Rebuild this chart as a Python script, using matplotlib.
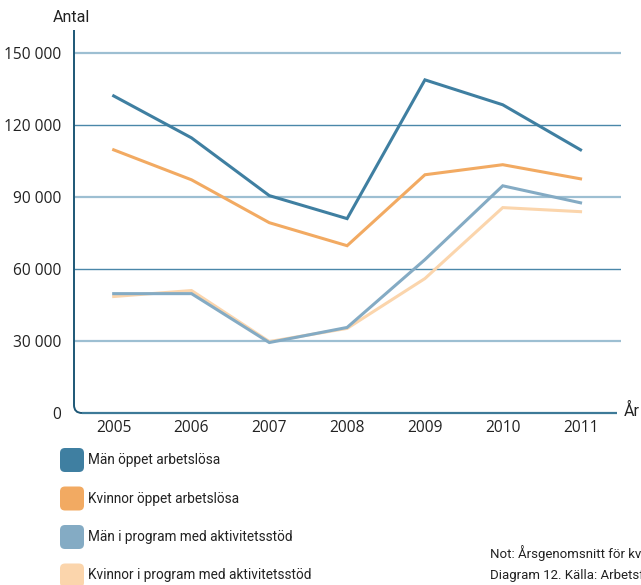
import matplotlib
matplotlib.use("Agg")
import matplotlib.pyplot as plt
from matplotlib.patches import FancyBboxPatch, PathPatch
from matplotlib.path import Path
from matplotlib.ticker import FuncFormatter

plt.rcParams['font.family'] = ['Open Sans', 'DejaVu Sans']
LABEL_FONT = ['Roboto', 'DejaVu Sans']

years = [2005, 2006, 2007, 2008, 2009, 2010, 2011]
man_oppet = [132300, 114800, 90700, 81100, 139000, 128600, 109800]
kvinnor_oppet = [109800, 97300, 79400, 69800, 99400, 103600, 97700]
man_program = [49800, 49800, 29400, 35700, 64000, 94800, 87700]
kvinnor_program = [48600, 51100, 29800, 35300, 56100, 85700, 84000]

series = [
    ("Män öppet arbetslösa", man_oppet, "#3f7fa1"),
    ("Kvinnor öppet arbetslösa", kvinnor_oppet, "#f2aa62"),
    ("Män i program med aktivitetsstöd", man_program, "#84abc4"),
    ("Kvinnor i program med aktivitetsstöd", kvinnor_program, "#fbd5ac"),
]
yticks = [0, 30000, 60000, 90000, 120000, 150000]

fig = plt.figure(figsize=(6.41, 5.85), dpi=100)
ax = fig.add_axes([74 / 641, 1 - 413 / 585, 547 / 641, 383 / 585])

# grid lines, alternating light / dark like the original
for v in yticks[1:]:
    if v in (60000, 120000):
        ax.axhline(v, color="#4a87a9", lw=1.0, zorder=1)
    else:
        ax.axhline(v, color="#9dbfd2", lw=1.6, zorder=1)

# draw lighter series first so the darker ones sit on top
for label, vals, col in reversed(series):
    ax.plot(years, vals, color=col, lw=2.2, solid_joinstyle="miter", zorder=3)

ax.set_xlim(2004.49, 2011.52)
ax.set_ylim(0, 159800)
ax.set_xticks(years)
ax.set_yticks(yticks)
ax.yaxis.set_major_formatter(FuncFormatter(lambda v, p: f"{int(v):,}".replace(",", " ")))
ax.tick_params(length=0, labelsize=11.2, colors="#222222", pad=9)
ax.tick_params(axis="x", pad=5)
for s in ax.spines.values():
    s.set_visible(False)

# axis frame with rounded lower-left corner (pixel coords)
r = 8
left = Path([(74, 585 - 30), (74, 585 - 413 + r), (74, 585 - 413), (74 + r, 585 - 413)],
            [Path.MOVETO, Path.LINETO, Path.CURVE3, Path.CURVE3])
fig.add_artist(PathPatch(left, fc="none", ec="#1d5776", lw=1.4, transform=None))
bottom = Path([(74 + r, 585 - 413), (617, 585 - 413)], [Path.MOVETO, Path.LINETO])
fig.add_artist(PathPatch(bottom, fc="none", ec="#3d7a98", lw=1.6, transform=None))

fig.text(53 / 641, 1 - 18 / 585, "Antal", fontsize=11.5, color="#222222", va="center", family=LABEL_FONT)
fig.text(624 / 641, 1 - 411 / 585, "År", fontsize=11.5, color="#222222", va="center", family=LABEL_FONT)

# legend with rounded squares
for i, (label, vals, col) in enumerate(series):
    yc = 585 - (460 + i * 38.5)
    box = FancyBboxPatch((62, yc - 10), 20, 20, boxstyle="round,pad=2,rounding_size=5",
                         fc=col, ec="none", transform=None)
    fig.add_artist(box)
    fig.text(88 / 641, yc / 585, label, fontsize=9.8, color="#222222", va="center", family=LABEL_FONT)

fig.text(490 / 641, 1 - 553 / 585, "Not: Årsgenomsnitt för kvinnor och män i åldern 16–64 år.",
         fontsize=9.5, color="#222222", va="center", family=LABEL_FONT)
fig.text(490 / 641, 1 - 576 / 585, "Diagram 12. Källa: Arbetsförmedlingen.",
         fontsize=9.5, color="#222222", va="center", family=LABEL_FONT)

fig.savefig("out.png", dpi=100)
